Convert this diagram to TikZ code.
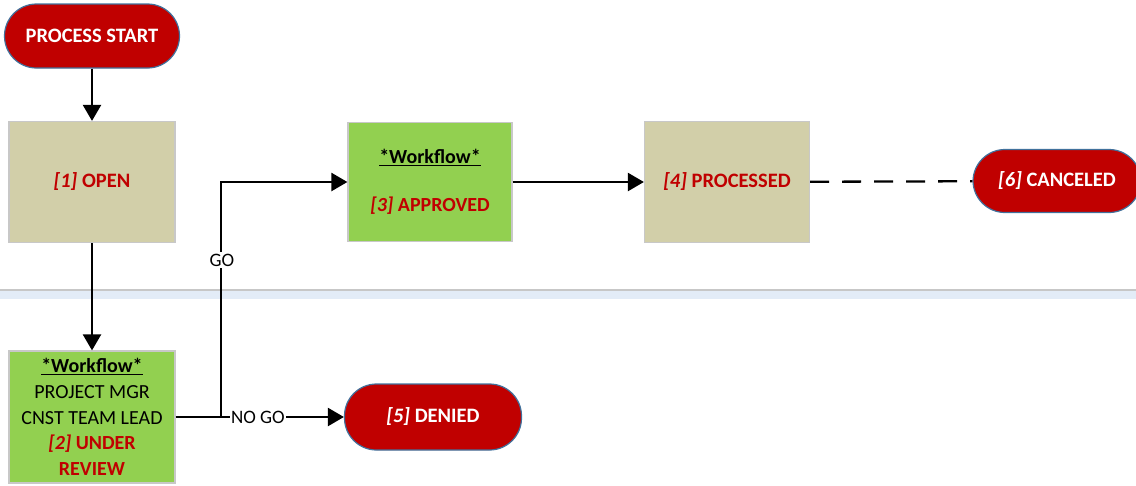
\documentclass[tikz,border=0pt]{standalone}
\usepackage{fontspec}
\setmainfont{Carlito}
\usetikzlibrary{arrows.meta}
\definecolor{termred}{HTML}{C00000}
\definecolor{termedge}{HTML}{41719C}
\definecolor{tan}{HTML}{D2CFA9}
\definecolor{wfgreen}{HTML}{92D050}
\definecolor{boxedge}{HTML}{C8C8C8}
\definecolor{glow}{HTML}{E3ECF7}
\tikzset{
  term/.style={draw=termedge, line width=1.2pt, fill=termred, rounded corners=32pt,
    text=white, font=\bfseries\fontsize{20.5}{24}\selectfont, inner sep=0pt, anchor=center},
  tanbox/.style={draw=boxedge, line width=1.2pt, fill=tan, inner sep=0pt, align=center,
    font=\bfseries\fontsize{20.5}{24}\selectfont, text=termred},
  greenbox/.style={draw=boxedge, line width=1.2pt, fill=wfgreen, inner sep=0pt, align=center,
    font=\fontsize{20}{24.5}\selectfont},
  conn/.style={line width=2.3pt, -{Triangle[length=16pt,width=18pt]}},
  plain/.style={line width=2.3pt},
  lbl/.style={fill=white, inner sep=1.5pt, font=\fontsize{19}{22}\selectfont}
}
\newcommand{\wfhead}{\textbf{\underline{*Workflow*}}}
\begin{document}
\begin{tikzpicture}[x=1pt,y=-1pt]
\useasboundingbox (0,0) rectangle (1136,485);
% separator
\fill[glow] (0,291) rectangle (1136,299);
\draw[line width=2.2pt, black!22] (0,290) -- (1136,290);
% nodes
\node[term, minimum width=175pt, minimum height=64pt] (start) at (92,36) {PROCESS START};
\node[tanbox, minimum width=166pt, minimum height=121pt] (open) at (92,182) {\textit{[1]} OPEN};
\node[greenbox, minimum width=164pt, minimum height=119pt] (appr) at (430,182)
  {\wfhead\\[24pt]\textcolor{termred}{\bfseries\textit{[3]} APPROVED}};
\node[tanbox, minimum width=165pt, minimum height=121pt] (proc) at (727,182) {\textit{[4]} PROCESSED};
\node[term, minimum width=168pt, minimum height=63pt] (canc) at (1057,181) {\textit{[6]} CANCELED};
\node[greenbox, minimum width=166pt, minimum height=132pt, font=\fontsize{20}{25.7}\selectfont] (rev) at (92,417)
  {\wfhead\\PROJECT MGR\\CNST TEAM LEAD\\\textcolor{termred}{\bfseries\textit{[2]} UNDER}\\\textcolor{termred}{\bfseries REVIEW}};
\node[term, minimum width=177pt, minimum height=66pt] (den) at (433,417) {\textit{[5]} DENIED};
% connectors
\coordinate (j) at (221,417);
\coordinate (t) at (221,182);
\draw[conn] (start) -- (open);
\draw[conn] (open) -- (rev);
\draw[conn] (appr) -- (proc);
\draw[plain, dash pattern=on 19pt off 13pt] (proc) -- (canc);
\draw[plain] (rev.east |- j) -- (j);
\draw[conn] (j) -- (t) -- (appr.west |- t);
\node[lbl] (go) at (222,260) {GO};
\draw[conn] (j) -- node[lbl, pos=0.3] (nogo) {NO GO} (den.west |- j);
\end{tikzpicture}
\end{document}
